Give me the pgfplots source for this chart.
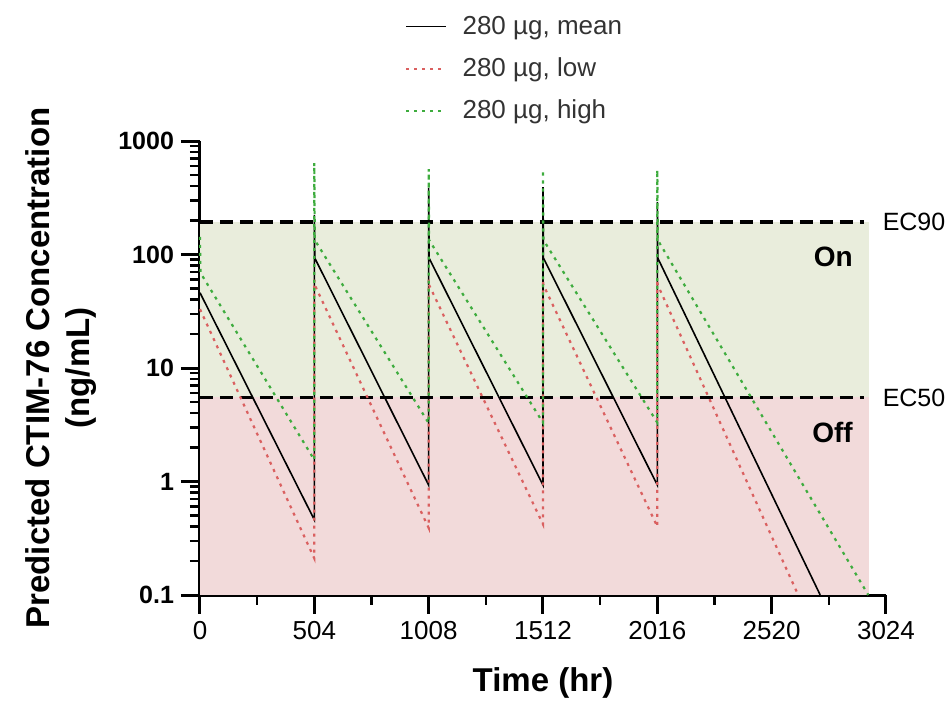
\documentclass[border=0pt]{standalone}
\usepackage{fontspec}
\setmainfont{Liberation Sans}
\usepackage{pgfplots}
\pgfplotsset{compat=1.18}

\definecolor{onfill}{RGB}{233,237,220}
\definecolor{offfill}{RGB}{242,218,218}
\definecolor{lowred}{RGB}{218,96,96}
\definecolor{highgreen}{RGB}{62,172,62}

\begin{document}
\begin{tikzpicture}
\begin{axis}[
    name=ax,
    scale only axis,
    width=343pt, height=227pt,
    xmin=0, xmax=3024,
    ymode=log, ymin=0.1, ymax=1000,
    axis lines=left,
    axis line style={-, line width=1.5pt},
    tick align=outside,
    major tick length=9.5pt, minor tick length=5pt,
    major tick style={line width=1.5pt, black},
    minor tick style={line width=1.3pt, black},
    xtick={0,504,1008,1512,2016,2520,3024},
    xticklabels={0,504,1008,1512,2016,2520,3024},
    minor xtick={252,756,1260,1764,2268,2772},
    ytick={0.1,1,10,100,1000},
    yticklabels={0.1,1,10,100,1000},
    minor ytick={0.2,0.3,0.4,0.5,0.6,0.7,0.8,0.9,2,3,4,5,6,7,8,9,20,30,40,50,60,70,80,90,200,300,400,500,600,700,800,900},
    xticklabel style={font=\fontsize{13}{15}\selectfont},
    yticklabel style={font=\bfseries\fontsize{12.5}{15}\selectfont},
    xlabel={Time (hr)},
    ylabel={Predicted CTIM-76 Concentration\\(ng/mL)},
    xlabel style={font=\bfseries\fontsize{16.5}{20}\selectfont, at={(axis description cs:0.5,-0.159)}, anchor=north, inner sep=0pt},
    ylabel style={font=\bfseries\fontsize{16.5}{20}\selectfont, align=center, at={(axis description cs:-0.151,0.5)}, anchor=south, inner sep=0pt},
    clip=false,
    legend style={draw=none, fill=none, at={(axis description cs:0.2988,1.276)}, anchor=north west,
        font=\fontsize{13}{15}\selectfont, text=black!80, row sep=10.25pt, column sep=7.5pt,
        nodes={inner sep=0pt}, inner sep=0pt},
    legend cell align=left,
    legend image code/.code={\draw[#1] (0pt,0pt) -- (20pt,0pt);},
]
% on / off bands
\addplot[draw=none, fill=offfill, forget plot] coordinates {(0,0.1) (2950,0.1) (2950,5.5) (0,5.5)};
\addplot[draw=none, fill=onfill, forget plot] coordinates {(0,5.5) (2950,5.5) (2950,194) (0,194)};
% EC lines
\addplot[black, line width=1.8pt, dash pattern=on 6.5pt off 3.5pt, forget plot] coordinates {(0,194) (2925,194)};
\addplot[black, line width=1.8pt, dash pattern=on 6.5pt off 3.5pt, forget plot] coordinates {(0,5.5) (2925,5.5)};

% mean
\addplot[black, line width=0.8pt] coordinates {
    (0,46) (504,0.46) (504,223) (506,93)
    (1008,0.93) (1008,386) (1010,93)
    (1512,0.93) (1512,393) (1514,93)
    (2016,0.93) (2016,290) (2018,93)
    (2734,0.1)
};
\addlegendentry{280 µg, mean}
% low
\addplot[lowred, line width=1.1pt, dash pattern=on 1.5pt off 2.5pt] coordinates {
    (0,33) (504,0.21) (504,60) (506,53.8)
    (1008,0.39) (1008,60) (1010,53.8)
    (1512,0.42) (1512,60) (1514,53.8)
    (2016,0.40) (2016,60) (2018,53.8)
    (2637,0.1)
};
\addlegendentry{280 µg, low}
% high
\addplot[highgreen, line width=1.1pt, dash pattern=on 1.5pt off 2.5pt] coordinates {
    (0,143) (2,69) (504,1.55) (504,640) (506,134)
    (1008,3.27) (1008,566) (1010,134)
    (1512,3.3) (1512,555) (1514,134)
    (2016,3.3) (2016,555) (2018,134)
    (2946,0.1)
};
\addlegendentry{280 µg, high}

\node[anchor=west, inner sep=0pt, font=\fontsize{12.5}{15}\selectfont] at (axis cs:3008,194) {EC90};
\node[anchor=west, inner sep=0pt, font=\fontsize{12.5}{15}\selectfont] at (axis cs:3008,5.5) {EC50};
\node[anchor=east, inner sep=0pt, font=\bfseries\fontsize{14}{16}\selectfont] at (axis cs:2879,95) {On};
\node[anchor=east, inner sep=0pt, font=\bfseries\fontsize{14}{16}\selectfont] at (axis cs:2879,2.73) {Off};
\end{axis}
\pgfresetboundingbox
\path ([shift={(-100pt,-53.5pt)}]ax.south west) rectangle ([shift={(29.5pt,70.5pt)}]ax.north east);
\end{tikzpicture}
\end{document}
